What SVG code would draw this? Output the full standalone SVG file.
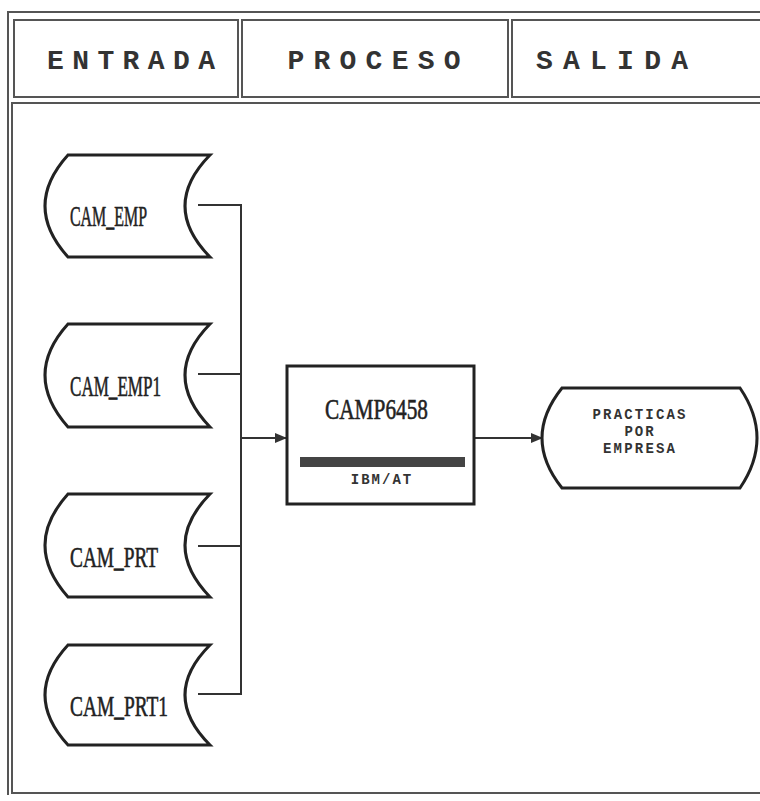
<svg xmlns="http://www.w3.org/2000/svg" width="760" height="801" viewBox="0 0 760 801">
<defs>
<style>
.frame{fill:none;stroke:#555;stroke-width:2}
.shape{fill:#fff;stroke:#222;stroke-width:3}
.conn{fill:none;stroke:#333;stroke-width:2}
.hdr{font-family:"Liberation Mono",monospace;font-weight:bold;font-size:28px;fill:#333;text-anchor:middle}
.lbl{font-family:"Liberation Serif",serif;font-size:30px;fill:#222;stroke:#222;stroke-width:0.6}
.small{font-family:"Liberation Mono",monospace;font-size:14px;font-weight:bold;fill:#333;text-anchor:middle;letter-spacing:2px}
</style>
<marker id="arr" viewBox="0 0 12 10" refX="12" refY="5" markerWidth="12" markerHeight="10" markerUnits="userSpaceOnUse" orient="auto">
<path d="M0,0 L12,5 L0,10 Z" fill="#333"/>
</marker>
</defs>
<rect width="760" height="801" fill="#fff"/>
<g id="frame">
<path class="frame" d="M8,795 L8,12 L760,12"/>
<rect class="frame" x="14" y="20" width="224" height="77"/>
<rect class="frame" x="242" y="20" width="266" height="77"/>
<path class="frame" d="M760,20 L512,20 L512,97 L760,97"/>
<path class="frame" d="M760,103 L12,103 L12,793 L760,793"/>
<text class="hdr" x="131" y="69" textLength="168">ENTRADA</text>
<text class="hdr" x="374" y="69" textLength="173">PROCESO</text>
<text class="hdr" x="612" y="69" textLength="152">SALIDA</text>
</g>
<g id="connectors">
<path class="conn" d="M198,205 L241,205 L241,694 L198,694"/>
<path class="conn" d="M198,374 L241,374"/>
<path class="conn" d="M198,546 L241,546"/>
<path class="conn" d="M241,438 L287,438" marker-end="url(#arr)"/>
<path class="conn" d="M474,438 L543,438" marker-end="url(#arr)"/>
</g>
<g id="cam_emp">
<path class="shape" d="M68,155 L210,155 Q160,206 210,257 L68,257 Q22,206 68,155 Z"/>
<text class="lbl" x="70" y="226" textLength="77" lengthAdjust="spacingAndGlyphs">CAM_EMP</text>
</g>
<g id="cam_emp1">
<path class="shape" d="M68,324 L210,324 Q160,375 210,427 L68,427 Q22,375 68,324 Z"/>
<text class="lbl" x="70" y="396" textLength="91" lengthAdjust="spacingAndGlyphs">CAM_EMP1</text>
</g>
<g id="cam_prt">
<path class="shape" d="M68,494 L210,494 Q160,545 210,597 L68,597 Q22,545 68,494 Z"/>
<text class="lbl" x="70" y="567" textLength="88" lengthAdjust="spacingAndGlyphs">CAM_PRT</text>
</g>
<g id="cam_prt1">
<path class="shape" d="M68,645 L210,645 Q160,695 210,745 L68,745 Q22,695 68,645 Z"/>
<text class="lbl" x="70" y="716" textLength="98" lengthAdjust="spacingAndGlyphs">CAM_PRT1</text>
</g>
<g id="camp6458">
<rect class="shape" x="287" y="366" width="187" height="138"/>
<text class="lbl" x="325" y="419" textLength="103" lengthAdjust="spacingAndGlyphs">CAMP6458</text>
<rect x="300" y="457" width="165" height="10" fill="#444"/>
<text class="small" x="382" y="484">IBM/AT</text>
</g>
<g id="practicas">
<path class="shape" d="M562,388 L740,388 Q774,438 740,488 L562,488 Q522,438 562,388 Z"/>
<text class="small" x="640" y="419" textLength="95">PRACTICAS</text>
<text class="small" x="640" y="436">POR</text>
<text class="small" x="640" y="453" textLength="74">EMPRESA</text>
</g>
</svg>
